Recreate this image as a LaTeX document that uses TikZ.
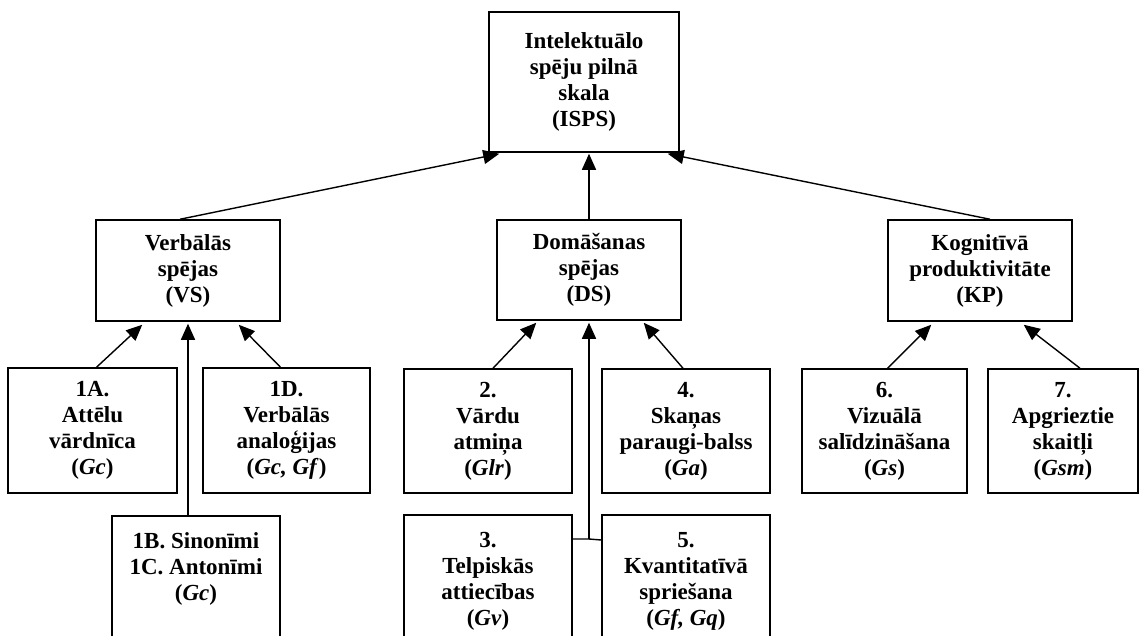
\documentclass[tikz,border=0pt]{standalone}
\usepackage{fontspec}
\setmainfont{Liberation Serif}
\usetikzlibrary{arrows.meta,calc}
\begin{document}
\begin{tikzpicture}[x=1pt,y=-1pt,
  txt/.style={inner sep=0pt,align=center,font=\fontsize{23}{26}\selectfont\bfseries},
  box/.style={draw,line width=1.5pt,inner sep=0pt,txt},
  arr/.style={line width=1.4pt,-{Triangle[length=16pt,width=14pt]}},
  ln/.style={line width=1.4pt}]
\useasboundingbox (0,0) rectangle (1143,635);
\clip (0,0) rectangle (1143,635);
\fill[white] (0,0) rectangle (1143,635);
% level 0
\node[box,minimum width=190pt,minimum height=140pt] (top) at (584,82)
  {Intelektuālo\\spēju pilnā\\skala\\(ISPS)};
% level 1
\node[box,minimum width=184pt,minimum height=101pt] (vs) at (188,270.5)
  {Verbālās\\spējas\\(VS)};
\node[box,minimum width=184pt,minimum height=100pt] (ds) at (589,270)
  {Domāšanas\\spējas\\(DS)};
\node[box,minimum width=184pt,minimum height=101pt] (kp) at (980,270.5)
  {Kognitīvā\\produktivitāte\\(KP)};
% level 2
\node[box,minimum width=169pt,minimum height=125pt] (a1) at (92.5,430.5)
  {1A.\\Attēlu\\vārdnīca\\(\textit{Gc})};
\node[box,minimum width=167pt,minimum height=125pt] (d1) at (286.5,430.5)
  {1D.\\Verbālās\\analoģijas\\(\textit{Gc, Gf})};
\node[box,minimum width=168pt,minimum height=124pt] (n2) at (488,431)
  {2.\\Vārdu\\atmiņa\\(\textit{Glr})};
\node[box,minimum width=168pt,minimum height=124pt] (n4) at (686,431)
  {4.\\Skaņas\\paraugi-balss\\(\textit{Ga})};
\node[box,minimum width=165pt,minimum height=124pt] (n6) at (884.5,431)
  {6.\\Vizuālā\\salīdzināšana\\(\textit{Gs})};
\node[box,minimum width=150pt,minimum height=124pt] (n7) at (1063,431)
  {7.\\Apgrieztie\\skaitļi\\(\textit{Gsm})};
% level 3 (cut at the bottom)
\node[box,minimum width=168pt,minimum height=144pt] (b1) at (196,588) {};
\node[txt,anchor=north] (b1t) at (196,532) {1B. Sinonīmi\\1C. Antonīmi\\(\textit{Gc})};
\node[box,minimum width=168pt,minimum height=145pt] (n3) at (488,587.5) {};
\node[txt,anchor=north] (n3t) at (488,532) {3.\\Telpiskās\\attiecības\\(\textit{Gv})};
\node[box,minimum width=168pt,minimum height=145pt] (n5) at (686,587.5) {};
\node[txt,anchor=north] (n5t) at (686,532) {5.\\Kvantitatīvā\\spriešana\\(\textit{Gf, Gq})};
% connectors to the top box
\draw[arr] ($(vs.north)+(-8,0)$) -- ($(top.south west)+(11,1)$);
\draw[arr] (ds.north) -- ($(ds.north |- top.south)+(0,1)$);
\draw[arr] ($(kp.north)+(10,0)$) -- ($(top.south east)+(-12,1)$);
% connectors to VS
\draw[arr] ($(a1.north)+(4,0)$) -- ($(vs.south west)+(47,3)$);
\draw[arr] (vs.south |- b1.north) -- ($(vs.south)+(0,2)$);
\draw[arr] ($(d1.north)+(-6,0)$) -- ($(vs.south east)+(-42,3)$);
% connectors to DS
\draw[arr] ($(n2.north)+(5,0)$) -- ($(ds.south west)+(40,2)$);
\draw[arr] ($(n4.north)+(-3,0)$) -- ($(ds.south east)+(-38,2)$);
\coordinate (j) at (589,539);
\draw[ln] (n3.east |- j) -- (j) -- ($(n5.west |- j)+(0,1)$);
\draw[arr] (j) -- ($(ds.south)+(0,2)$);
% connectors to KP
\draw[arr] ($(n6.north)+(3,0)$) -- ($(kp.south west)+(44,3)$);
\draw[arr] ($(n7.north)+(17,0)$) -- ($(kp.south east)+(-49,3)$);
\end{tikzpicture}
\end{document}
